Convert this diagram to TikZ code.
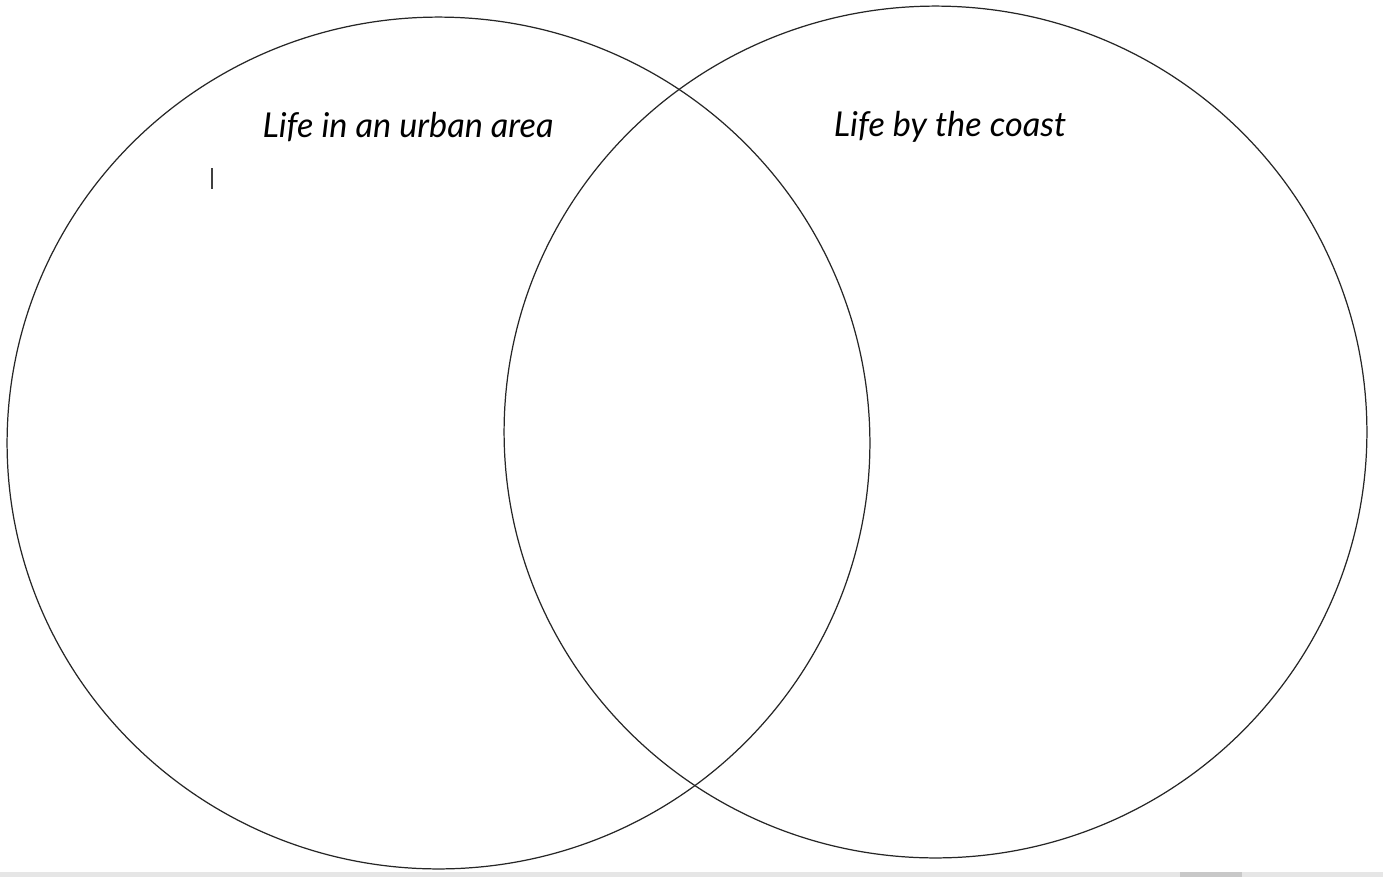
\documentclass[tikz,border=0pt]{standalone}
\usepackage{fontspec}
\setmainfont{Lato}
\usetikzlibrary{shapes.geometric}
\definecolor{barcol}{HTML}{E6E6E6}
\definecolor{thumbcol}{HTML}{C8C8C8}
\begin{document}
\begin{tikzpicture}[x=0.02cm, y=-0.02cm,
    set/.style={ellipse, draw=black!85, line width=0.7pt, inner sep=0pt,
                minimum width=17.26cm, minimum height=17.04cm},
    title/.style={font=\itshape\fontsize{19.5}{23}\selectfont, inner sep=0pt}
]
\useasboundingbox (0,0) rectangle (1383,877);

% -------- Los dos conjuntos --------
\node[set] (urban) at (438.5,443) {};
\node[set] (coast) at (935.5,432) {};

% Titulos
\node[title] (urbanT) at (408,127) {Life in an urban area};
\node[title] (coastT) at (950,127) {Life by the coast};

% cursor y barra inferior
\draw[black!75, line width=0.8pt] (212,168) -- (212,189);
\fill[barcol] (0,872) rectangle (1383,877);
\fill[thumbcol] (1180,872) rectangle (1242,877);
\end{tikzpicture}
\end{document}
